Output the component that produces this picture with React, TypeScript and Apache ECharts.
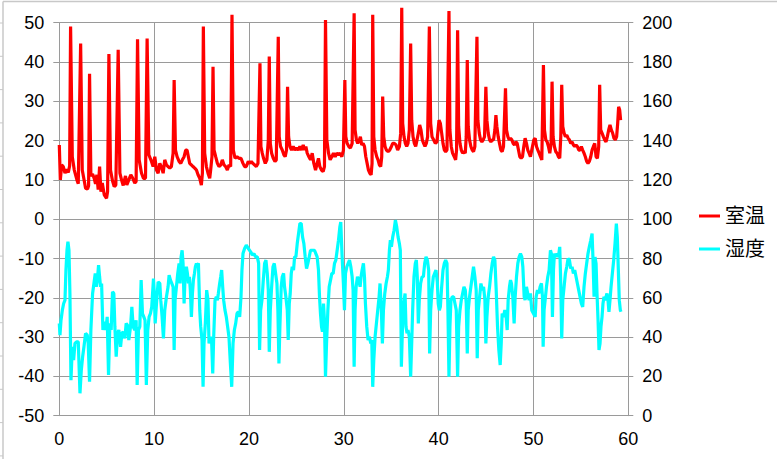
import React, { useEffect, useRef } from "react";
import * as echarts from "echarts";

const seriesNames = ["室温", "湿度"];
const xTicks = { min: 0, max: 60, interval: 10 };
const leftTicks = { min: -50, max: 50, interval: 10 };
const rightTicks = { min: 0, max: 200, interval: 20 };

const tempX = [
  0, 0.11, 0.25, 0.42, 0.6, 0.77, 0.95, 1.09, 1.19, 1.37, 1.58, 1.86, 2.0, 2.25, 2.42, 2.63, 2.77, 2.98, 3.09, 3.19,
  3.33, 3.51, 3.68, 3.82, 3.96, 4.1, 4.25, 4.39, 4.53, 4.74, 4.98, 5.09, 5.23, 5.4, 5.61, 5.79, 5.96, 6.21, 6.39, 6.56,
  6.74, 6.98, 7.12, 7.33, 7.54, 7.75, 7.96, 8.1, 8.25, 8.42, 8.67, 8.88, 9.09, 9.26, 9.44, 9.72,
  9.89, 10.07, 10.25, 10.42, 10.6, 10.81, 10.95, 11.12, 11.3, 11.47, 11.65, 11.82, 12.0, 12.11, 12.25, 12.42, 12.63,
  12.81, 12.98, 13.16, 13.33, 13.47, 13.61, 13.75, 13.93, 14.1, 14.28, 14.46, 14.63, 14.81, 14.98, 15.09, 15.19, 15.33,
  15.51, 15.68, 15.86, 15.96, 16.1, 16.21, 16.32, 16.49, 16.67, 16.84, 17.02, 17.19, 17.37, 17.54, 17.72, 17.89, 18.07,
  18.21, 18.35, 18.53, 18.74, 18.95, 19.16, 19.37, 19.54, 19.72, 19.93,
  20.1, 20.25, 20.42, 20.6, 20.77, 20.95, 21.16, 21.26, 21.4, 21.54, 21.72, 21.89, 22.04, 22.14, 22.25, 22.39, 22.56,
  22.74, 22.88, 23.09, 23.19, 23.33, 23.51, 23.68, 23.82, 23.96, 24.07, 24.18, 24.32, 24.49, 24.67, 24.84, 25.02, 25.19,
  25.37, 25.54, 25.72, 25.86, 26.0, 26.14, 26.32, 26.49, 26.67, 26.84, 27.02, 27.19, 27.33, 27.47, 27.65, 27.82, 27.96,
  28.07, 28.21, 28.39, 28.56, 28.74, 28.91, 29.09, 29.26, 29.44, 29.61, 29.79, 29.96,
  30.11, 30.21, 30.35, 30.53, 30.7, 30.88, 31.09, 31.19, 31.33, 31.47, 31.65, 31.75, 31.89, 32.04, 32.18, 32.32, 32.46,
  32.6, 32.74, 32.88, 32.98, 33.05, 33.16, 33.3, 33.47, 33.61, 33.75, 33.89, 34.0, 34.1, 34.21, 34.35, 34.49, 34.67,
  34.84, 35.02, 35.16, 35.33, 35.51, 35.68, 35.86, 36.0, 36.11, 36.21, 36.35, 36.49, 36.63, 36.77, 36.91, 37.05, 37.16,
  37.3, 37.44, 37.58, 37.72, 37.86, 38.0, 38.14, 38.28, 38.42, 38.56, 38.7, 38.84, 39.02, 39.16, 39.3, 39.47, 39.65,
  39.82, 40.04,
  40.18, 40.32, 40.46, 40.6, 40.74, 40.88, 41.09, 41.19, 41.33, 41.47, 41.65, 41.79, 41.89, 42.0, 42.11, 42.25, 42.39,
  42.53, 42.67, 42.81, 42.91, 43.02, 43.12, 43.26, 43.4, 43.54, 43.68, 43.82, 44.04, 44.14, 44.28, 44.42, 44.56, 44.7,
  44.84, 44.98, 45.09, 45.23, 45.37, 45.51, 45.65, 45.79, 45.93, 46.04, 46.14, 46.28, 46.42, 46.56, 46.7, 46.84, 47.05,
  47.16, 47.3, 47.44, 47.58, 47.72, 47.86, 48.0, 48.14, 48.28, 48.42, 48.56, 48.7, 48.84, 48.98, 49.12, 49.26, 49.4,
  49.54, 49.68, 49.82, 50.04,
  50.18, 50.32, 50.46, 50.6, 50.74, 50.88, 51.05, 51.16, 51.3, 51.44, 51.58, 51.72, 51.86, 51.96, 52.07, 52.21, 52.35,
  52.49, 52.63, 52.77, 52.88, 52.98, 53.09, 53.23, 53.37, 53.51, 53.65, 53.79, 53.93, 54.07, 54.21, 54.35, 54.49, 54.63,
  54.77, 54.91, 55.05, 55.19, 55.33, 55.47, 55.61, 55.75, 55.89, 56.04, 56.18, 56.32, 56.46, 56.6, 56.74, 56.88, 56.98,
  57.09, 57.23, 57.37, 57.51, 57.65, 57.79, 57.93, 58.07, 58.21, 58.35, 58.49, 58.63, 58.77, 58.88, 58.98, 59.09, 59.19,
];

const tempY = [
  18.9, 10.0, 13.8, 13.4, 11.7, 12.7, 11.9, 13.6, 49.0, 15.9, 12.5, 10.0, 9.0, 44.7, 12.5, 9.8, 7.9, 7.7, 8.5, 37.0,
  11.0, 11.5, 10.4, 9.0, 11.3, 7.5, 13.4, 7.0, 9.2, 6.2, 5.3, 7.0, 42.0, 12.5, 9.8, 8.3, 8.7, 43.1, 11.7, 10.0,
  8.6, 11.0, 8.7, 10.0, 11.3, 10.4, 9.2, 9.6, 45.8, 15.1, 11.7, 10.4, 10.4, 46.0, 16.4, 14.7,
  13.4, 15.9, 12.5, 11.7, 14.2, 13.0, 11.7, 15.1, 13.8, 13.4, 13.0, 13.4, 16.8, 35.4, 17.6, 15.9, 14.7,
  14.2, 15.1, 15.9, 17.6, 17.6, 15.9, 14.2, 13.8, 13.4, 13.0, 12.5, 11.3, 10.4, 8.7, 11.7, 49.0, 16.8,
  13.4, 11.7, 10.4, 12.5, 15.9, 38.8, 17.6, 15.9, 14.2, 13.4, 13.8, 15.1, 13.8, 13.4, 12.5, 13.8, 13.4,
  52.0, 17.6, 15.5, 15.9, 15.5, 15.5, 14.2, 13.4, 13.4, 14.7,
  14.2, 14.7, 14.2, 13.8, 13.4, 14.2, 39.7, 18.5, 16.8, 15.5, 14.2, 15.1, 20.2, 41.4, 19.3, 16.8, 15.5,
  14.7, 15.1, 46.4, 21.0, 18.5, 17.6, 16.4, 15.9, 17.6, 33.7, 21.0, 18.5, 17.6, 18.5, 17.6, 18.1, 17.6,
  18.5, 17.6, 18.9, 17.6, 18.5, 16.8, 15.9, 15.1, 16.8, 14.2, 12.5, 14.2, 15.5, 13.4, 12.5, 12.1, 13.4,
  50.7, 20.2, 16.8, 15.1, 15.9, 16.8, 15.9, 16.8, 16.4, 16.8, 15.9, 17.5,
  35.4, 21.0, 19.3, 18.5, 18.1, 19.3, 52.4, 22.7, 20.2, 19.3, 20.2, 21.0, 18.9, 19.3, 18.5, 15.9, 14.2,
  12.5, 11.7, 11.3, 14.2, 52.0, 21.0, 17.6, 15.9, 15.1, 13.8, 13.4, 15.9, 31.2, 21.0, 18.5, 17.6, 17.2,
  17.6, 18.5, 19.3, 19.3, 18.9, 17.6, 18.5, 21.9, 53.8, 24.4, 21.0, 19.3, 18.5, 19.3, 22.7, 44.7, 25.2,
  21.0, 19.3, 18.5, 20.2, 21.9, 24.0, 22.7, 20.2, 19.3, 18.5, 19.3, 21.0, 49.0, 24.4, 21.0, 20.2, 19.3,
  19.7, 25.2,
  24.4, 21.9, 19.3, 17.6, 17.2, 17.6, 53.0, 22.7, 18.5, 16.8, 15.9, 15.1, 17.6, 48.1, 23.6, 19.3, 17.6,
  16.8, 17.2, 16.8, 21.0, 40.5, 23.6, 20.2, 18.5, 17.6, 17.2, 18.5, 46.4, 25.2, 21.9, 20.2, 19.7, 20.2,
  21.0, 33.7, 25.2, 21.9, 20.2, 19.7, 20.2, 20.2, 22.7, 26.5, 23.6, 21.0, 19.3, 17.6, 17.2, 18.5, 33.3,
  22.7, 21.0, 20.2, 20.6, 20.2, 19.3, 18.9, 19.7, 19.3, 17.6, 15.9, 15.5, 15.9, 18.5, 20.6, 19.3, 17.6,
  16.8, 15.9, 17.6, 20.2,
  20.6, 18.5, 17.6, 16.8, 15.9, 15.1, 39.2, 22.7, 20.2, 19.7, 18.5, 16.8, 19.3, 35.0, 21.0, 18.5, 17.2,
  16.8, 15.9, 15.5, 21.0, 34.2, 23.6, 21.9, 21.0, 21.4, 20.6, 20.2, 19.3, 19.7, 18.9, 18.5, 18.9, 18.5,
  17.6, 17.6, 18.5, 17.6, 16.8, 15.9, 14.7, 14.2, 14.7, 15.9, 17.6, 18.5, 19.3, 15.9, 15.5, 18.5, 34.2,
  22.7, 21.9, 21.0, 20.2, 19.7, 21.0, 22.7, 24.0, 22.7, 21.9, 20.6, 20.2, 21.0, 24.4, 28.6, 27.8, 25.2,
];

const humX = [
  0, 0.07, 0.18, 0.32, 0.46, 0.6, 0.7, 0.81, 0.91, 1.02, 1.12, 1.23, 1.37, 1.51, 1.65, 1.82, 2.0, 2.18, 2.32, 2.46,
  2.6, 2.77, 2.95, 3.05, 3.19, 3.33, 3.51, 3.65, 3.79, 3.9, 4.04, 4.14, 4.25, 4.35, 4.46, 4.6, 4.74, 4.91, 5.05, 5.19,
  5.33, 5.47, 5.61, 5.75, 5.86, 6.0, 6.14, 6.28, 6.46, 6.6, 6.74, 6.91, 7.05, 7.19, 7.33, 7.51, 7.65, 7.79, 7.96, 8.1,
  8.21, 8.35, 8.49, 8.63, 8.77, 8.91, 9.04, 9.18, 9.33, 9.47, 9.61, 9.75, 9.93,
  10.0, 10.11, 10.25, 10.42, 10.6, 10.7, 10.84, 10.98, 11.12, 11.3, 11.47, 11.58, 11.72, 11.86, 12.0, 12.11, 12.21,
  12.35, 12.49, 12.63, 12.74, 12.84, 12.95, 13.05, 13.16, 13.26, 13.4, 13.51, 13.61, 13.72, 13.82, 13.93, 14.04, 14.14,
  14.25, 14.35, 14.46, 14.56, 14.67, 14.81, 14.91, 15.05, 15.16, 15.26, 15.4, 15.54, 15.68, 15.79, 15.93, 16.07, 16.18,
  16.28, 16.42, 16.56, 16.67, 16.77, 16.91, 17.02, 17.12, 17.23, 17.33, 17.47, 17.61, 17.75, 17.89, 18.04, 18.18, 18.32,
  18.46, 18.6, 18.74, 18.88, 19.02, 19.16, 19.26, 19.37, 19.54, 19.72, 19.93,
  20.18, 20.35, 20.53, 20.7, 20.88, 21.02, 21.12, 21.23, 21.37, 21.51, 21.65, 21.79, 21.93, 22.04, 22.14, 22.25, 22.39,
  22.53, 22.67, 22.81, 22.95, 23.05, 23.16, 23.26, 23.4, 23.51, 23.65, 23.75, 23.89, 24.04, 24.14, 24.25, 24.35, 24.46,
  24.56, 24.7, 24.81, 24.95, 25.09, 25.23, 25.37, 25.51, 25.65, 25.79, 25.93, 26.07, 26.21, 26.35, 26.49, 26.63, 26.77,
  26.91, 27.05, 27.19, 27.33, 27.44, 27.54, 27.65, 27.75, 27.86, 27.96, 28.07, 28.18, 28.32, 28.46, 28.6, 28.74, 28.88,
  29.02, 29.16, 29.3, 29.44, 29.58, 29.68, 29.82, 29.96, 30.07,
  30.18, 30.32, 30.46, 30.6, 30.74, 30.88, 30.98, 31.09, 31.19, 31.3, 31.44, 31.58, 31.72, 31.82, 31.93, 32.07, 32.18,
  32.28, 32.42, 32.56, 32.7, 32.84, 32.95, 33.05, 33.16, 33.3, 33.44, 33.58, 33.72, 33.82, 33.96, 34.07, 34.18, 34.32,
  34.46, 34.6, 34.7, 34.81, 34.91, 35.02, 35.16, 35.3, 35.44, 35.58, 35.72, 35.86, 35.96, 36.07, 36.18, 36.32, 36.46,
  36.56, 36.67, 36.77, 36.91, 37.05, 37.16, 37.26, 37.4, 37.54, 37.65, 37.75, 37.86, 37.96, 38.1, 38.25, 38.39, 38.53,
  38.67, 38.81, 38.95, 39.05, 39.16, 39.3, 39.44, 39.58, 39.72, 39.86, 39.96,
  40.07, 40.18, 40.32, 40.46, 40.6, 40.74, 40.88, 40.98, 41.09, 41.19, 41.3, 41.44, 41.58, 41.72, 41.86, 42.0, 42.11,
  42.25, 42.39, 42.53, 42.67, 42.81, 42.91, 43.02, 43.12, 43.26, 43.4, 43.54, 43.68, 43.82, 43.96, 44.07, 44.18, 44.32,
  44.46, 44.6, 44.74, 44.88, 44.98, 45.09, 45.23, 45.37, 45.51, 45.65, 45.79, 45.93, 46.07, 46.21, 46.35, 46.49, 46.6,
  46.7, 46.84, 46.98, 47.12, 47.23, 47.33, 47.47, 47.58, 47.68, 47.82, 47.96, 48.07, 48.21, 48.35, 48.49, 48.63, 48.77,
  48.88, 49.02, 49.12, 49.26, 49.4, 49.54, 49.68, 49.82, 50.0,
  50.18, 50.28, 50.42, 50.56, 50.7, 50.84, 50.95, 51.02, 51.12, 51.23, 51.37, 51.51, 51.65, 51.79, 51.89, 52.0, 52.11,
  52.21, 52.35, 52.49, 52.63, 52.77, 52.88, 52.98, 53.09, 53.23, 53.37, 53.51, 53.65, 53.79, 53.93, 54.07, 54.21, 54.35,
  54.49, 54.63, 54.77, 54.91, 55.05, 55.19, 55.33, 55.47, 55.61, 55.75, 55.89, 56.04, 56.18, 56.28, 56.39, 56.49, 56.6,
  56.7, 56.81, 56.91, 57.02, 57.12, 57.23, 57.33, 57.44, 57.54, 57.65, 57.75, 57.86, 57.96, 58.07, 58.18, 58.32, 58.46,
  58.6, 58.74, 58.84, 58.95, 59.05, 59.16, 59.23,
];

const humY = [
  47.0, 41.0, 48.6, 53.7, 57.1, 58.8, 74.1, 84.2, 88.5, 84.2, 62.2, 18.1, 35.1, 28.3, 36.8, 37.6, 37.6, 11.4, 23.2, 30.0,
  35.1, 41.9, 41.0, 36.8, 17.3, 43.6, 62.2, 67.3, 72.4, 65.6, 70.7, 76.6, 70.7, 65.6, 67.3, 43.6, 47.8, 43.6, 50.3, 20.7,
  47.0, 43.6, 63.1, 62.2, 45.3, 30.0, 41.9, 43.6, 35.1, 41.9, 42.7, 39.3, 47.0, 46.1, 38.5, 45.3, 55.4, 45.3, 43.6, 48.6,
  15.6, 43.6, 45.3, 69.0, 52.0, 50.3, 48.6, 15.6, 43.6, 50.3, 52.0, 55.4, 69.8,
  63.9, 47.0, 57.1, 68.1, 67.3, 58.8, 50.3, 39.3, 53.7, 60.5, 65.6, 71.5, 69.0, 67.3, 65.6, 33.4, 58.8,
  65.6, 72.4, 77.5, 67.3, 80.8, 84.2, 77.5, 57.1, 70.7, 75.8, 72.4, 67.3, 70.7, 63.9, 50.3, 62.2, 69.0,
  72.4, 75.8, 77.5, 76.6, 77.5, 53.7, 45.3, 38.5, 14.7, 36.8, 47.0, 63.9, 58.8, 36.8, 40.2, 36.8, 21.5,
  40.2, 58.8, 60.5, 58.8, 62.2, 67.3, 70.7, 74.1, 65.6, 58.8, 53.7, 50.3, 45.3, 40.2, 26.6, 14.7, 36.8,
  43.6, 47.0, 52.0, 52.9, 50.3, 60.5, 74.1, 82.5, 85.1, 86.8, 85.1,
  83.4, 81.7, 82.5, 80.8, 80.8, 77.5, 33.4, 53.7, 58.8, 69.0, 77.5, 79.2, 72.4, 63.9, 32.5, 53.7, 65.6,
  75.8, 77.5, 72.4, 67.3, 53.7, 26.6, 45.3, 65.6, 70.7, 72.4, 65.6, 60.5, 53.7, 38.5, 57.1, 62.2, 72.4,
  75.8, 74.1, 80.8, 80.8, 87.6, 92.7, 97.8, 97.8, 91.0, 87.6, 80.8, 74.9, 77.5, 80.8, 84.2, 84.2, 84.2,
  84.2, 82.5, 80.8, 74.1, 60.5, 52.0, 45.3, 42.7, 57.1, 48.6, 19.8, 36.8, 53.7, 65.6, 69.0, 72.4, 72.4,
  77.5, 79.2, 84.2, 89.3, 96.0, 98.5, 81.0, 67.0, 53.7,
  72.4, 75.8, 77.5, 79.2, 75.8, 70.7, 63.9, 24.9, 53.7, 65.6, 70.7, 69.0, 65.6, 70.7, 74.1, 77.5, 70.7,
  57.1, 45.3, 38.5, 40.2, 36.8, 38.5, 14.7, 28.3, 40.2, 47.0, 53.7, 60.5, 67.3, 53.7, 36.8, 53.7, 62.2,
  67.3, 70.7, 74.1, 84.2, 89.3, 85.9, 91.0, 94.4, 99.5, 96.1, 91.0, 87.6, 84.2, 24.9, 43.6, 57.1, 62.2,
  45.3, 41.9, 43.6, 40.2, 19.8, 36.8, 53.7, 70.7, 77.5, 79.2, 70.7, 47.0, 58.8, 67.3, 70.7, 70.7, 77.5,
  80.8, 79.2, 74.1, 31.7, 53.7, 63.9, 70.7, 72.4, 74.1, 68.0, 57.0,
  53.7, 55.4, 65.6, 74.1, 77.5, 79.2, 77.5, 53.7, 19.8, 45.3, 58.8, 60.5, 60.5, 57.1, 53.7, 19.8, 45.3,
  53.7, 58.8, 62.2, 65.6, 63.9, 57.1, 31.7, 53.7, 60.5, 65.6, 70.7, 75.8, 70.7, 63.9, 29.2, 53.7, 60.5,
  67.3, 63.9, 65.6, 58.8, 36.8, 50.3, 60.5, 65.6, 72.4, 77.5, 80.8, 79.2, 63.9, 45.3, 33.4, 25.8, 36.8,
  52.0, 50.3, 53.7, 50.3, 43.6, 58.8, 65.6, 69.0, 67.3, 60.5, 47.0, 60.5, 70.7, 77.5, 80.8, 82.5, 80.8,
  75.8, 60.5, 58.8, 65.6, 62.2, 58.8, 62.2, 53.7, 52.0,
  50.3, 60.5, 63.9, 62.2, 65.6, 67.3, 60.5, 35.1, 53.7, 58.8, 65.6, 70.7, 74.1, 84.2, 82.5, 50.3, 74.1,
  82.5, 80.8, 82.5, 80.8, 85.9, 67.3, 39.3, 58.8, 65.6, 72.4, 75.8, 80.0, 79.2, 74.9, 75.8, 72.4, 74.1,
  70.7, 67.3, 63.9, 60.5, 57.1, 55.4, 65.6, 72.4, 77.5, 82.5, 85.9, 89.3, 92.7, 79.2, 60.5, 80.8, 77.5,
  62.2, 48.6, 33.4, 36.8, 45.3, 50.3, 57.1, 60.5, 58.8, 60.5, 62.2, 58.8, 52.9, 58.8, 65.6, 72.4, 79.2,
  87.6, 97.8, 91.0, 74.1, 58.8, 53.7, 52.9,
];

const FONT = '"Liberation Sans", Arial, "Noto Sans CJK JP", sans-serif';
const GRID_COLOR = "#9a9a9a";

export default function App() {
  const ref = useRef<HTMLDivElement>(null);

  useEffect(() => {
    if (!ref.current) return;
    const chart = echarts.init(ref.current, undefined, { renderer: "svg" });

    const tempData = tempX.map((x, i) => [x, tempY[i]]);
    const humData = humX.map((x, i) => [x, humY[i]]);

    const frameTicks: any[] = [];
    for (let y = 23; y < 459; y += 33.3) {
      frameTicks.push({
        type: "line",
        shape: { x1: 0, y1: y, x2: 3, y2: y },
        style: { stroke: "#c8c8c8", lineWidth: 1 },
        silent: true,
      });
    }

    const axisLabel = { fontFamily: FONT, fontSize: 18, color: "#000" };

    chart.setOption({
      animation: false,
      backgroundColor: "#ffffff",
      grid: { left: 59.3, right: 148.7, top: 22.7, bottom: 43.3, containLabel: false },
      legend: {
        orient: "vertical",
        left: 694,
        top: 200,
        itemWidth: 21,
        itemHeight: 3,
        itemGap: 11,
        icon: "rect",
        data: seriesNames,
        textStyle: { fontFamily: FONT, fontSize: 20, color: "#000", lineHeight: 22 },
      },
      xAxis: {
        type: "value",
        min: xTicks.min,
        max: xTicks.max,
        interval: xTicks.interval,
        axisLine: { show: true, lineStyle: { color: GRID_COLOR, width: 1 } },
        axisTick: { show: false },
        splitLine: { show: true, lineStyle: { color: GRID_COLOR, width: 1 } },
        axisLabel: { ...axisLabel, margin: 14 },
      },
      yAxis: [
        {
          type: "value",
          position: "left",
          min: leftTicks.min,
          max: leftTicks.max,
          interval: leftTicks.interval,
          axisLine: { show: true, lineStyle: { color: GRID_COLOR, width: 1 } },
          axisTick: { show: true, inside: false, length: 6, lineStyle: { color: GRID_COLOR } },
          splitLine: { show: true, lineStyle: { color: GRID_COLOR, width: 1 } },
          axisLabel: { ...axisLabel, margin: 15 },
        },
        {
          type: "value",
          position: "right",
          min: rightTicks.min,
          max: rightTicks.max,
          interval: rightTicks.interval,
          axisLine: { show: true, lineStyle: { color: GRID_COLOR, width: 1 } },
          axisTick: { show: true, inside: false, length: 5, lineStyle: { color: GRID_COLOR } },
          splitLine: { show: false },
          axisLabel: { ...axisLabel, margin: 14 },
        },
      ],
      graphic: [
        {
          type: "line",
          shape: { x1: 3, y1: 1.5, x2: 777, y2: 1.5 },
          style: { stroke: "#c8c8c8", lineWidth: 1.5 },
          silent: true,
        },
        {
          type: "line",
          shape: { x1: 3, y1: 1.5, x2: 3, y2: 459 },
          style: { stroke: "#c8c8c8", lineWidth: 1.5 },
          silent: true,
        },
        ...frameTicks,
      ],
      series: [
        {
          name: seriesNames[0],
          type: "line",
          yAxisIndex: 0,
          data: tempData,
          showSymbol: false,
          symbol: "none",
          clip: false,
          color: "#ff0000",
          lineStyle: { color: "#ff0000", width: 3.2 },
          z: 3,
        },
        {
          name: seriesNames[1],
          type: "line",
          yAxisIndex: 1,
          data: humData,
          showSymbol: false,
          symbol: "none",
          clip: false,
          color: "#00ffff",
          lineStyle: { color: "#00ffff", width: 3.2 },
          z: 3,
        },
      ],
    });

    return () => {
      chart.dispose();
    };
  }, []);

  return (
    <div
      ref={ref}
      style={{ position: "absolute", left: 0, top: 0, width: 777, height: 459, background: "#fff" }}
    />
  );
}
